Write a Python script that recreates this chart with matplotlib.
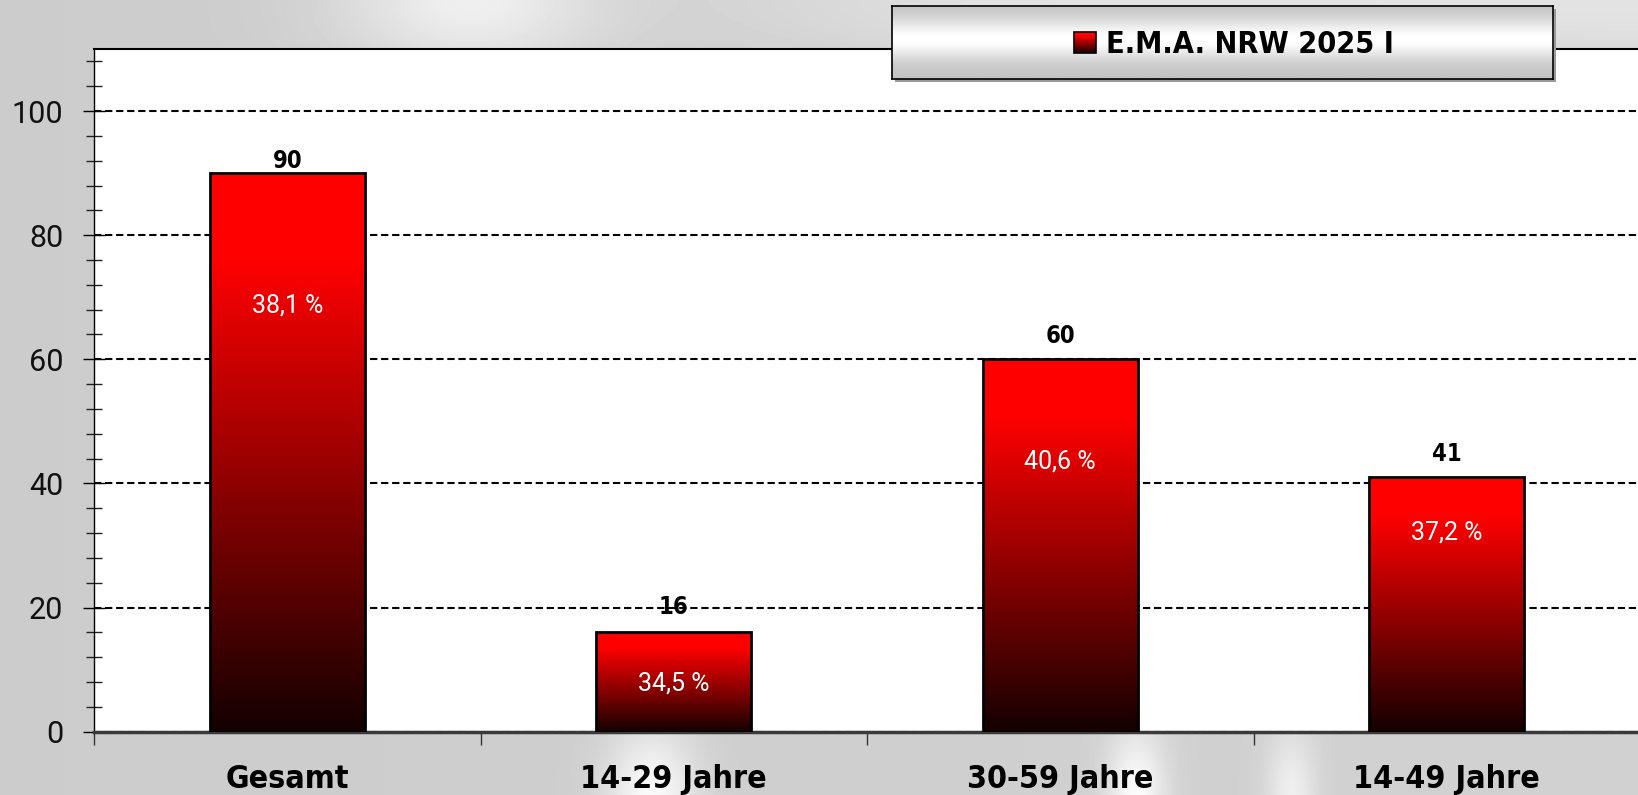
import numpy as np
import matplotlib
matplotlib.use("Agg")
import matplotlib.pyplot as plt
from matplotlib.ticker import MultipleLocator, FixedLocator, NullFormatter
from matplotlib.colors import LinearSegmentedColormap
from matplotlib.patches import Rectangle
from matplotlib.transforms import blended_transform_factory

# ---------------- data ----------------
categories = ["Gesamt", "14-29 Jahre", "30-59 Jahre", "14-49 Jahre"]
values = [90, 16, 60, 41]
shares = ["38,1 %", "34,5 %", "40,6 %", "37,2 %"]
series_name = "E.M.A. NRW 2025 I"
yticks = [0, 20, 40, 60, 80, 100]

# ---------------- style ----------------
share_label_y = [67.6, 6.7, 42.4, 30.9]
value_label_offset = [4, 13, 12, 12]
bar_width = 0.4
light_font = ["Roboto", "DejaVu Sans"]
bold_font = ["DejaVu Sans"]

W, H = 1638, 795
fig = plt.figure(figsize=(W / 100, H / 100), dpi=100)

# background (decorative grey sheen)
bg = fig.add_axes([0, 0, 1, 1], zorder=-10)
yy, xx = np.mgrid[0:H:3, 0:W:3].astype(float)
img = 0.80 + 0.02 * (xx / W)
img += 0.13 * np.exp(-((xx - 470) / 130) ** 2) * np.exp(-(yy / 70) ** 2)
img += 0.07 * np.clip((xx - 600) / 400, 0, 1) * np.exp(-(yy / 60) ** 2)
img += 0.17 * np.exp(-((xx - 650) / 45) ** 2) * np.exp(-((yy - 795) / 70) ** 2)
img += 0.17 * np.exp(-((xx - 1135) / 30) ** 2) * np.exp(-((yy - 795) / 70) ** 2)
img += 0.12 * np.exp(-((xx - 1290) / 25) ** 2) * np.exp(-((yy - 795) / 70) ** 2)
img = np.clip(img, 0, 1)
bg.imshow(img, cmap="gray", vmin=0, vmax=1, aspect="auto",
          extent=(0, W, H, 0), interpolation="bilinear")
bg.set_axis_off()

# main axes
ax = fig.add_axes([94 / W, 1 - 731.7 / H, (1640 - 94) / W, (731.7 - 49) / H])
ax.set_facecolor("white")
x = np.arange(len(categories))

bars = ax.bar(x, values, width=bar_width, facecolor="none",
              edgecolor="black", linewidth=2, zorder=4)

cmap = LinearSegmentedColormap.from_list("redblack", [(0.08, 0, 0), (1, 0, 0)])
grad = np.clip(np.linspace(0, 1, 256) / 0.85, 0, 1)
grad = grad.reshape(-1, 1)
for b, v in zip(bars, values):
    bx = b.get_x()
    im = ax.imshow(grad, cmap=cmap, vmin=0, vmax=1, aspect="auto", origin="lower",
                   extent=(bx, bx + b.get_width(), 0, v), zorder=3,
                   interpolation="bilinear")
    im.set_clip_path(b)

ax.set_xlim(-0.5, len(categories) - 0.5)
ax.set_ylim(0, 110)

# grid
ax.set_axisbelow(True)
ax.yaxis.grid(True, which="major", color="black", linewidth=1.5,
              linestyle=(0, (3.5, 1.8)), zorder=1)

# y ticks
ax.yaxis.set_major_locator(FixedLocator(yticks))
ax.yaxis.set_minor_locator(MultipleLocator(4))
ax.tick_params(axis="y", which="major", direction="inout", length=16, width=1,
               color="black", pad=14, labelsize=22, labelcolor="#111111")
ax.tick_params(axis="y", which="minor", direction="inout", length=11, width=1,
               color="#222222")
for lab in ax.get_yticklabels():
    lab.set_family(light_font)
    lab.set_fontweight("normal")

# x ticks (category boundaries)
ax.xaxis.set_major_locator(FixedLocator(np.arange(len(categories) + 1) - 0.5))
ax.xaxis.set_major_formatter(NullFormatter())
ax.tick_params(axis="x", which="major", direction="out", length=9, width=1,
               color="#333333")

# spines
ax.spines["bottom"].set_color("#3a3a3a")
ax.spines["bottom"].set_linewidth(2.5)
ax.spines["left"].set_color("black")
ax.spines["left"].set_linewidth(1)
ax.spines["top"].set_color("black")
ax.spines["top"].set_linewidth(1.5)
ax.spines["right"].set_visible(False)

# category labels
tr = blended_transform_factory(ax.transData, fig.transFigure)
for xi, c in zip(x, categories):
    ax.text(xi, 1 - 788 / H, c, transform=tr, ha="center", va="baseline",
            fontsize=23, fontweight="bold", fontstretch="condensed",
            family=bold_font, color="black", clip_on=False)

# value labels above bars
for xi, v, off in zip(x, values, value_label_offset):
    ax.annotate(str(v), (xi, v), xytext=(0, off), textcoords="offset points",
                ha="center", va="baseline", fontsize=17, fontweight="bold",
                fontstretch="condensed", family=bold_font, color="black", zorder=6)

# share labels inside bars
for xi, s, yl in zip(x, shares, share_label_y):
    ax.text(xi, yl, s, ha="center", va="baseline", fontsize=18,
            fontweight="normal", family=light_font, color="white", zorder=6)

# legend box
lx0, ly0, lx1, ly1 = 892, 6, 1553, 79
shadow = fig.add_axes([(lx0 + 3) / W, 1 - (ly1 + 3) / H, (lx1 - lx0) / W, (ly1 - ly0) / H],
                      zorder=9)
shadow.set_facecolor("#9a9a9a")
shadow.set_xticks([]); shadow.set_yticks([])
for s in shadow.spines.values():
    s.set_visible(False)
lg = fig.add_axes([lx0 / W, 1 - ly1 / H, (lx1 - lx0) / W, (ly1 - ly0) / H], zorder=10)
lw_, lh_ = lx1 - lx0, ly1 - ly0
tt = np.linspace(0, 1, 200)
shade = 0.76 + 0.24 * np.exp(-((tt - 0.45) / 0.28) ** 2)
lg.imshow(shade.reshape(-1, 1), cmap="gray", vmin=0, vmax=1, aspect="auto",
          extent=(0, lw_, 0, lh_), origin="upper", interpolation="bilinear")
lg.set_xlim(0, lw_)
lg.set_ylim(0, lh_)
lg.set_xticks([]); lg.set_yticks([])
for s in lg.spines.values():
    s.set_color("black")
    s.set_linewidth(1.2)
mk = Rectangle((182, 26), 22, 21, facecolor="none", edgecolor="black",
               linewidth=1.2, zorder=4)
lg.add_patch(mk)
mim = lg.imshow(grad, cmap=cmap, vmin=0, vmax=1, aspect="auto", origin="lower",
                extent=(182, 204, 26, 47), zorder=3)
mim.set_clip_path(mk)
lg.set_xlim(0, lw_)
lg.set_ylim(0, lh_)
lg.text(214, 26, series_name, ha="left", va="baseline", fontsize=22,
        fontweight="bold", fontstretch="condensed", family=bold_font, color="black")

fig.savefig("out.png", dpi=100, facecolor="#cfcfcf")
